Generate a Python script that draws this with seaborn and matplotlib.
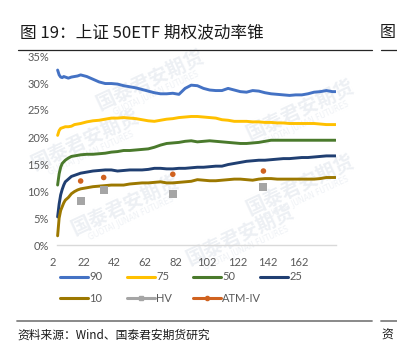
import numpy as np
import pandas as pd
import matplotlib
matplotlib.use("Agg")
import matplotlib.pyplot as plt
from matplotlib.lines import Line2D
import seaborn as sns

# ---------------- data ----------------
days = [5, 6, 7, 8, 9, 10, 12, 14, 16, 18, 20,
        24, 28, 32, 36, 40, 44, 48, 52, 56, 60, 64, 68, 72, 76, 80,
        84, 88, 92, 96, 100, 104, 108, 112, 116, 120, 124, 128, 132, 136,
        140, 144, 148, 152, 156, 160, 164, 168, 172, 176, 180, 184, 186]

p90 = [32.4, 31.5, 31.1, 31.0, 31.2, 31.1, 30.9, 31.1, 31.2, 31.3, 31.5,
       31.2, 30.7, 30.2, 29.9, 29.9, 29.8, 29.5, 29.3, 29.1, 28.8, 28.5, 28.2, 28.0, 28.0, 28.1,
       27.9, 29.0, 29.6, 29.5, 29.0, 28.7, 28.6, 28.6, 29.0, 28.7, 28.4, 28.3, 28.6, 28.5,
       28.2, 28.0, 27.9, 27.8, 27.7, 27.8, 27.8, 28.0, 28.3, 28.4, 28.6, 28.4, 28.4]

p75 = [20.3, 21.2, 21.6, 21.7, 21.8, 21.9, 21.9, 22.0, 22.3, 22.4, 22.5,
       22.8, 23.0, 23.1, 23.3, 23.5, 23.5, 23.6, 23.5, 23.4, 23.2, 23.0, 22.9, 23.1, 23.3, 23.4,
       23.6, 23.7, 23.8, 23.8, 23.7, 23.6, 23.5, 23.2, 23.1, 22.9, 22.9, 22.9, 22.8, 22.8,
       22.7, 22.7, 22.6, 22.6, 22.5, 22.5, 22.5, 22.5, 22.5, 22.4, 22.3, 22.3, 22.3]

p50 = [11.1, 13.2, 14.4, 15.1, 15.4, 15.7, 16.1, 16.4, 16.5, 16.6, 16.7,
       16.8, 16.8, 16.9, 17.0, 17.2, 17.3, 17.5, 17.5, 17.6, 17.7, 17.8, 18.1, 18.5, 18.8, 18.9,
       19.0, 19.2, 19.3, 19.1, 19.2, 19.3, 19.2, 19.1, 19.0, 18.9, 18.8, 18.8, 18.9, 19.0,
       19.2, 19.4, 19.4, 19.4, 19.4, 19.4, 19.4, 19.4, 19.4, 19.4, 19.4, 19.4, 19.4]

p25 = [5.2, 7.6, 9.3, 10.3, 11.1, 11.7, 12.2, 12.7, 12.9, 13.1, 13.3,
       13.5, 13.7, 13.8, 13.9, 13.9, 13.7, 13.8, 13.9, 13.9, 13.9, 14.0, 14.2, 14.2, 14.1, 14.1,
       14.2, 14.2, 14.3, 14.4, 14.4, 14.5, 14.6, 14.6, 14.9, 15.1, 15.3, 15.5, 15.6, 15.7,
       15.7, 15.8, 15.9, 16.0, 16.0, 16.1, 16.2, 16.2, 16.3, 16.4, 16.5, 16.5, 16.5]

p10 = [1.7, 5.0, 6.4, 7.1, 7.8, 8.3, 8.8, 9.5, 9.9, 10.2, 10.4,
       10.6, 10.8, 10.9, 11.0, 11.1, 11.1, 11.1, 11.3, 11.4, 11.5, 11.5, 11.6, 11.7, 11.5, 11.5,
       11.6, 11.7, 11.8, 12.1, 12.0, 11.9, 11.9, 12.0, 12.1, 12.2, 12.2, 12.1, 12.0, 12.2,
       12.3, 12.3, 12.2, 12.2, 12.2, 12.2, 12.2, 12.2, 12.2, 12.3, 12.5, 12.5, 12.5]

point_days = [20, 35, 80, 139]
hv = [8.2, 10.2, 9.4, 10.7]
atm_iv = [11.85, 12.5, 13.1, 13.7]

series_names = ["90", "75", "50", "25", "10"]
colors = {"90": "#4472C4", "75": "#FFC000", "50": "#4A7A2C",
          "25": "#203F72", "10": "#9C7800"}
hv_color = "#A5A5A5"
iv_color = "#D0621F"

x_ticks = [2, 22, 42, 62, 82, 102, 122, 142, 162]
y_ticks = [0, 5, 10, 15, 20, 25, 30, 35]

# ---------------- figure ----------------
sns.set_theme(style="white")
plt.rcParams["font.family"] = ["Noto Sans CJK SC", "DejaVu Sans"]

W, H = 397, 364
fig = plt.figure(figsize=(W / 100, H / 100), dpi=100)
fig.patch.set_facecolor("white")

def fx(px):
    return px / W

def fy(py):
    return 1 - py / H

# faint watermarks (behind the plot)
wm_pos = [(150, 80), (300, 110), (85, 140), (300, 185), (125, 205), (240, 235)]
for (wx, wy) in wm_pos:
    fig.text(fx(wx), fy(wy), "国泰君安期货", fontsize=14, color="#EDF0F4",
             rotation=25, ha="center", va="center", zorder=-5,
             family=["Noto Sans CJK SC"], fontweight="bold")
    fig.text(fx(wx + 6), fy(wy + 13), "GUOTAI JUNAN FUTURES", fontsize=5.5,
             color="#EEF1F5", rotation=25, ha="center", va="center", zorder=-5,
             family=["DejaVu Sans"])

ax = fig.add_axes([fx(53), fy(245), (335.6 - 53) / W, (245 - 56) / H])
ax.set_facecolor("none")
ax.set_zorder(1)

long = pd.DataFrame({
    "day": np.tile(days, len(series_names)),
    "vol": np.concatenate([p90, p75, p50, p25, p10]),
    "pct": np.repeat(series_names, len(days)),
})
sns.lineplot(data=long, x="day", y="vol", hue="pct", hue_order=series_names,
             palette=colors, linewidth=2.1, legend=False, ax=ax, zorder=3)

pts = pd.DataFrame({"day": point_days, "hv": hv, "iv": atm_iv})
sns.scatterplot(data=pts, x="day", y="hv", marker="s", s=32, color=hv_color,
                edgecolor="none", ax=ax, zorder=4)
sns.scatterplot(data=pts, x="day", y="iv", marker="o", s=16, color=iv_color,
                edgecolor="none", ax=ax, zorder=4)

ax.set_xlim(2, 186)
ax.set_ylim(0, 35)
ax.set_xticks(x_ticks)
ax.set_xticklabels([str(t) for t in x_ticks])
ax.set_yticks(y_ticks)
ax.set_yticklabels([f"{t}%" for t in y_ticks])
ax.set_xlabel("")
ax.set_ylabel("")
for s in ["top", "right", "left"]:
    ax.spines[s].set_visible(False)
ax.spines["bottom"].set_color("#D9D9D9")
ax.spines["bottom"].set_linewidth(1.0)
ax.spines["bottom"].set_bounds(4.5, 186)
ax.tick_params(axis="both", length=0, labelsize=8, colors="#595959")
ax.tick_params(axis="y", pad=3)
ax.tick_params(axis="x", pad=9)
for lab in ax.get_xticklabels() + ax.get_yticklabels():
    lab.set_family(["Lato", "DejaVu Sans"])
ax.grid(False)

# legend (Excel-style fixed grid)
legend_items = [
    (Line2D([], [], color=colors["90"], lw=2.2), "90", 60, 277),
    (Line2D([], [], color=colors["75"], lw=2.2), "75", 127, 277),
    (Line2D([], [], color=colors["50"], lw=2.2), "50", 193, 277),
    (Line2D([], [], color=colors["25"], lw=2.2), "25", 260, 277),
    (Line2D([], [], color=colors["10"], lw=2.2), "10", 60, 298),
    (Line2D([], [], color=hv_color, lw=2.2, marker="s", markersize=3.5), "HV", 127, 298),
    (Line2D([], [], color=iv_color, lw=2.2, marker="o", markersize=3), "ATM-IV", 193, 298),
]
for h, lab, lx, ly in legend_items:
    lg = fig.legend(handles=[h], labels=[lab], loc="center left",
                    bbox_to_anchor=(fx(lx), fy(ly)), frameon=False,
                    handlelength=2.55, handletextpad=0.1, borderpad=0,
                    borderaxespad=0,
                    prop={"family": ["Lato", "DejaVu Sans"], "size": 8})
    for t in lg.get_texts():
        t.set_color("#595959")

# title and rules
fig.text(fx(20), fy(33), "图 19：上证 50ETF 期权波动率锥", fontsize=12,
         color="#1a1a1a", ha="left", va="center")
fig.text(fx(380), fy(33), "图", fontsize=11.5, color="#1a1a1a",
         ha="left", va="center")
fig.add_artist(Line2D([fx(18), fx(372)], [fy(50), fy(50)], color="#262626", lw=0.9))
fig.add_artist(Line2D([fx(381), fx(397)], [fy(50), fy(50)], color="#262626", lw=0.9))
fig.add_artist(Line2D([fx(17), fx(372)], [fy(321), fy(321)], color="#808080", lw=1.3))
fig.add_artist(Line2D([fx(381), fx(397)], [fy(321), fy(321)], color="#808080", lw=1.3))

fig.text(fx(17), fy(335), "资料来源：Wind、国泰君安期货研究", fontsize=8.5,
         color="#1a1a1a", ha="left", va="center")
fig.text(fx(381), fy(335), "资", fontsize=8.5, color="#1a1a1a",
         ha="left", va="center")

fig.savefig("out.png", dpi=100, facecolor="white")
